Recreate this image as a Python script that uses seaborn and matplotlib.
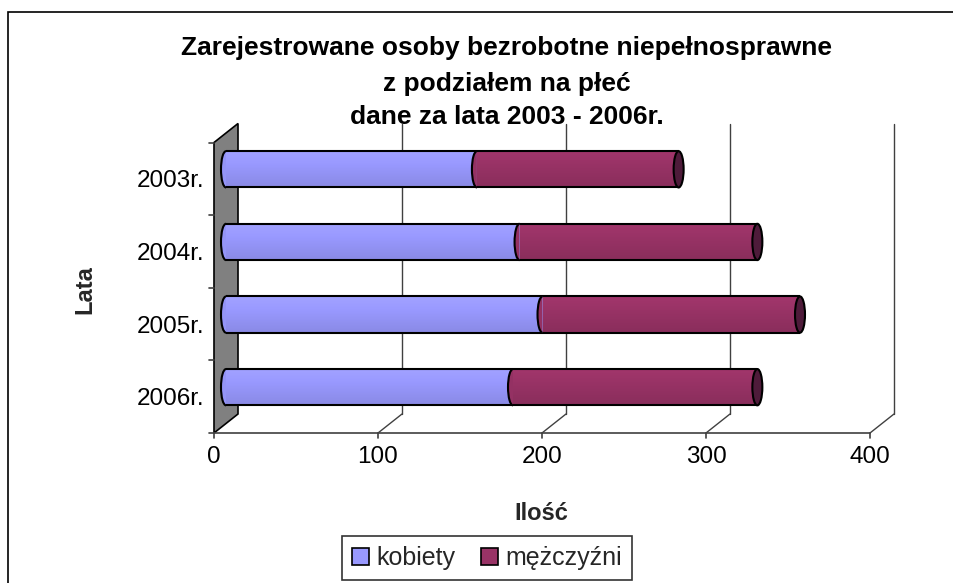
import numpy as np
import pandas as pd
import matplotlib
matplotlib.use('Agg')
import matplotlib.pyplot as plt
import seaborn as sns
from matplotlib.patches import Arc, Polygon, Rectangle, Patch, Ellipse
from matplotlib.colors import to_rgb

# ---- data ----
lata = ['2003r.', '2004r.', '2005r.', '2006r.']
kobiety = [153, 179, 193, 175]
mezczyzni = [123, 145, 157, 149]
x_ticks = [0, 100, 200, 300, 400]
series_names = ['kobiety', 'mężczyźni']
title_lines = ['Zarejestrowane osoby bezrobotne niepełnosprawne',
               'z podziałem na płeć',
               'dane za lata 2003 - 2006r.']
x_label = 'Ilość'
y_label = 'Lata'

sns.set_theme(style='white')
plt.rcParams['font.family'] = ['Liberation Sans', 'DejaVu Sans']

W, H = 954, 583
fig = plt.figure(figsize=(W / 100, H / 100), dpi=100)
fig.patch.set_facecolor('white')

# middle (bar) plane in pixels
px0, px1 = 226, 882
py_top, py_bot = 133, 423.5
ax = fig.add_axes([px0 / W, 1 - py_bot / H, (px1 - px0) / W, (py_bot - py_top) / H])
ax.set_facecolor('none')

df = pd.DataFrame({'rok': lata, 'kobiety': kobiety, 'mezczyzni': mezczyzni})
df['razem'] = df['kobiety'] + df['mezczyzni']

BLUE = '#9999FF'
PURPLE = '#993366'
CAP = '#4E1B3A'

sns.barplot(data=df, x='razem', y='rok', orient='h', color=PURPLE, width=0.5,
            saturation=1, linewidth=0, ax=ax, zorder=3)
sns.barplot(data=df, x='kobiety', y='rok', orient='h', color=BLUE, width=0.5,
            saturation=1, linewidth=0, ax=ax, zorder=3)

XMAX = x_ticks[-1]
n = len(lata)
ax.set_xlim(0, XMAX)
ax.set_ylim(n - 0.5, -0.5)
ax.axis('off')

pxx = XMAX / (px1 - px0)          # data units per pixel (x)
pxy = n / (py_bot - py_top)       # data units per pixel (y)
DX, DY = 12 * pxx, 9.5 * pxy


def front(x, y):
    return x - DX, y + DY


def back(x, y):
    return x + DX, y - DY


LINE = '#404040'
TICK_FS = 17.5
# left wall
wall = Polygon([front(0, -0.5), back(0, -0.5), back(0, n - 0.5), front(0, n - 0.5)],
               closed=True, facecolor='#808080', edgecolor='black', lw=1.2,
               clip_on=False, zorder=1)
ax.add_patch(wall)
# back gridlines and floor diagonals
for t in x_ticks[1:]:
    bx, by0 = back(t, -0.5)
    _, by1 = back(t, n - 0.5)
    ax.plot([bx, bx], [by0, by1], color=LINE, lw=1, clip_on=False, zorder=0.5)
    fx, fy = front(t, n - 0.5)
    ax.plot([fx, bx], [fy, by1], color=LINE, lw=1, clip_on=False, zorder=0.5)
# front x axis
fx0, fy0 = front(0, n - 0.5)
fx1, _ = front(XMAX, n - 0.5)
ax.plot([fx0, fx1], [fy0, fy0], color=LINE, lw=1.2, clip_on=False, zorder=2)
for t in x_ticks:
    fx, fy = front(t, n - 0.5)
    ax.plot([fx, fx], [fy, fy + 5 * pxy], color=LINE, lw=1.2, clip_on=False, zorder=2)
    ax.text(fx, fy + 13 * pxy, str(t), ha='center', va='top', fontsize=TICK_FS,
            color='black', clip_on=False)
# y axis ticks
for b in np.arange(-0.5, n, 1.0):
    fx, fy = front(0, b)
    ax.plot([fx - 5 * pxx, fx], [fy, fy], color=LINE, lw=1.2, clip_on=False, zorder=2)
for i, lab in enumerate(lata):
    fx, fy = front(0, i)
    ax.text(fx - 10 * pxx, fy, lab, ha='right', va='center_baseline', fontsize=TICK_FS,
            color='black', clip_on=False)

# gradient shading for the cylinders
def shade(col, k):
    r = np.array(to_rgb(col))
    return np.clip(r * k, 0, 1)

patches = list(ax.patches)
bars_p = patches[:n]
bars_b = patches[n:2 * n]
prof = np.linspace(0, 1, 40)
for group, col, z in ((bars_p, PURPLE, 2.6), (bars_b, BLUE, 2.8)):
    for p in group:
        x0, y0, w, h = p.get_x(), p.get_y(), p.get_width(), p.get_height()
        ks = 1.06 - 0.16 * prof
        grad = np.array([shade(col, k) for k in ks])[:, None, :]
        im = ax.imshow(grad, extent=(x0, x0 + w, y0 + h, y0), origin='upper',
                       aspect='auto', zorder=z, interpolation='bilinear')
        im.set_clip_path(p)
        p.set_facecolor('none')
ax.set_xlim(0, XMAX)
ax.set_ylim(n - 0.5, -0.5)

cw = 10 * pxx
EC = 'black'
LW = 1.5
tt = np.linspace(np.pi / 2, 3 * np.pi / 2, 40)
for i, p in enumerate(bars_p):
    y0, h, tot = p.get_y(), p.get_height(), p.get_width()
    yc = y0 + h / 2
    kob = bars_b[i].get_width()
    # top / bottom outlines
    ax.hlines([y0, y0 + h], 0, tot, colors=EC, lw=LW, zorder=4)
    # left cap
    pts = np.c_[0 + cw / 2 * np.cos(tt), yc + h / 2 * np.sin(tt)]
    ax.add_patch(Polygon(pts, closed=True, facecolor=shade(BLUE, 0.97), edgecolor='none',
                         zorder=5, clip_on=False))
    ax.add_patch(Arc((0, yc), cw, h, theta1=90, theta2=270, edgecolor=EC, lw=LW,
                     zorder=6, clip_on=False))
    # junction
    pts = np.c_[kob + cw / 2 * np.cos(tt), yc + h / 2 * np.sin(tt)]
    ax.add_patch(Polygon(pts, closed=True, facecolor=shade(PURPLE, 0.97), edgecolor='none',
                         zorder=5))
    ax.add_patch(Arc((kob, yc), cw, h, theta1=90, theta2=270, edgecolor=EC, lw=LW, zorder=6))
    # right end cap
    ax.add_patch(Ellipse((tot, yc), cw, h, facecolor=CAP, edgecolor=EC, lw=LW,
                         zorder=6, clip_on=False))

# chart border
fig.add_artist(Rectangle((8 / W, -0.1), 2, 1.1 - 12 / H, transform=fig.transFigure,
                         fill=False, edgecolor='black', lw=1.2))

# titles and labels
for k, (line, yy) in enumerate(zip(title_lines, [48, 84, 117])):
    fig.text(507 / W, 1 - yy / H, line, ha='center', va='center', fontsize=19,
             fontweight='bold', color='black')
fig.text(85 / W, 1 - 290 / H, y_label, rotation=90, ha='center', va='center',
         fontsize=17, fontweight='bold')
fig.text(541 / W, 1 - 514 / H, x_label, ha='center', va='center',
         fontsize=17, fontweight='bold')

handles = [Patch(facecolor=BLUE, edgecolor='black', lw=1.2),
           Patch(facecolor=PURPLE, edgecolor='black', lw=1.2)]
leg = fig.legend(handles, series_names, loc='center', bbox_to_anchor=(487 / W, 1 - 558 / H),
                 ncol=2, frameon=True, fancybox=False, edgecolor='black', fontsize=18,
                 handlelength=0.7, handleheight=0.7, handletextpad=0.3,
                 columnspacing=1.0, borderpad=0.4)
leg.get_frame().set_linewidth(1.2)

fig.savefig('out.png', dpi=100, facecolor='white')
